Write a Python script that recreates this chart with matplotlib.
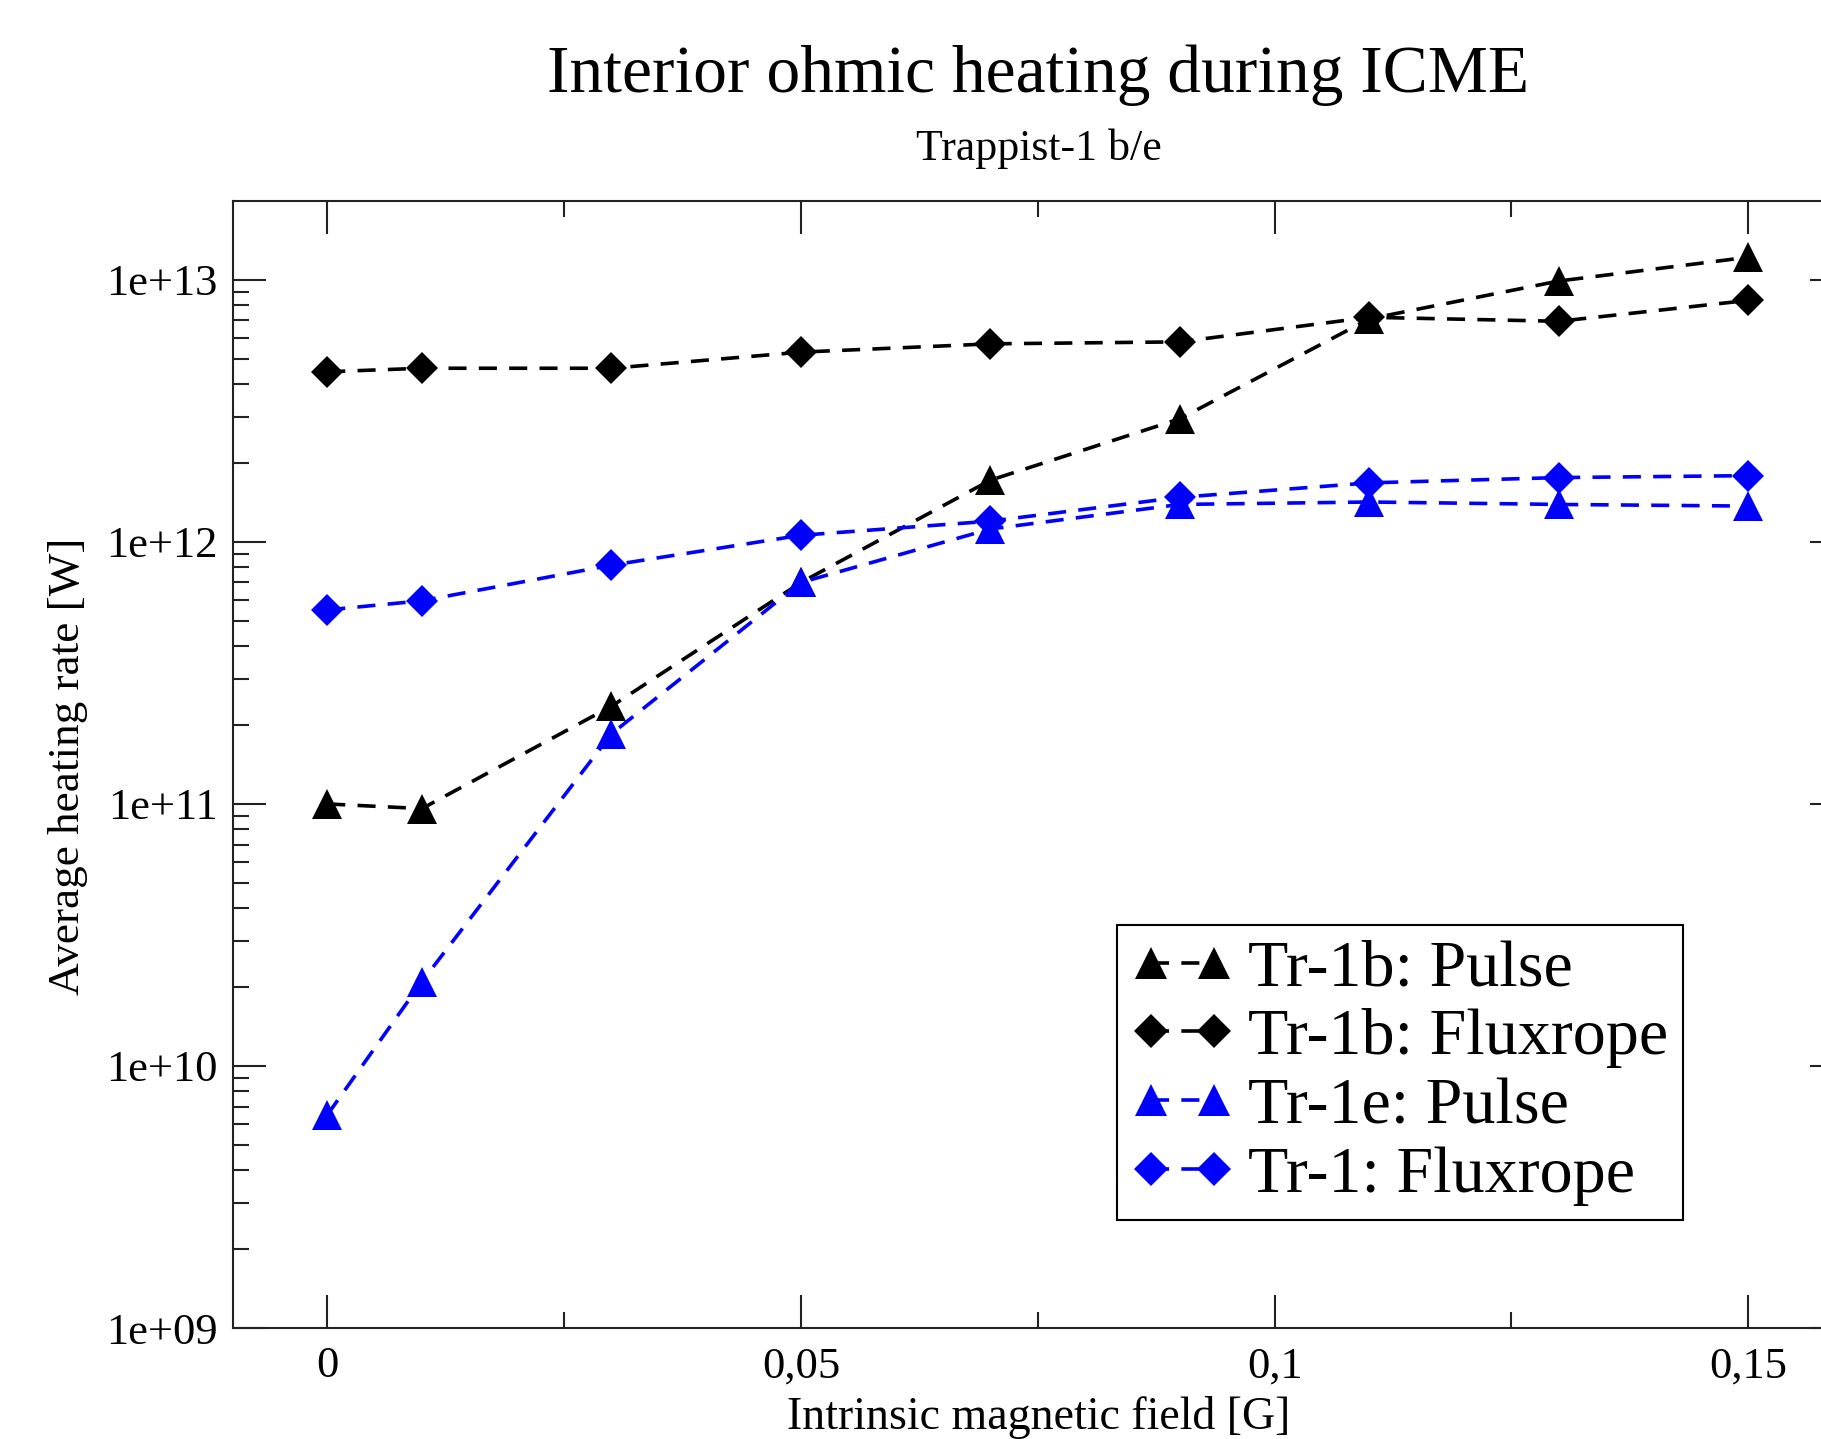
import matplotlib
matplotlib.use('Agg')
import matplotlib.pyplot as plt
from matplotlib.ticker import FixedLocator, FixedFormatter, NullFormatter

# ---- data ----
field = [0.0, 0.01, 0.03, 0.05, 0.07, 0.09, 0.11, 0.13, 0.15]
tr1b_pulse = [1.0e11, 9.6e10, 2.36e11, 7.0e11, 1.72e12, 2.95e12, 7.1e12, 9.9e12, 1.22e13]
tr1b_fluxrope = [4.46e12, 4.6e12, 4.6e12, 5.3e12, 5.7e12, 5.8e12, 7.2e12, 6.95e12, 8.35e12]
tr1e_pulse = [6.5e9, 2.1e10, 1.85e11, 7.0e11, 1.12e12, 1.39e12, 1.42e12, 1.39e12, 1.37e12]
tr1_fluxrope = [5.5e11, 5.96e11, 8.15e11, 1.06e12, 1.2e12, 1.48e12, 1.68e12, 1.76e12, 1.79e12]

labels = ["Tr-1b: Pulse", "Tr-1b: Fluxrope", "Tr-1e: Pulse", "Tr-1: Fluxrope"]
xtick_vals = [0.0, 0.05, 0.1, 0.15]
xtick_labels = ["0", "0,05", "0,1", "0,15"]
xminor_vals = [0.025, 0.075, 0.125]
ytick_vals = [1e9, 1e10, 1e11, 1e12, 1e13]
ytick_labels = ["1e+09", "1e+10", "1e+11", "1e+12", "1e+13"]
yminor_vals = [m * 10 ** e for e in range(9, 13) for m in range(2, 10)]

title = "Interior ohmic heating during ICME"
subtitle = "Trappist-1 b/e"
xlabel = "Intrinsic magnetic field [G]"
ylabel = "Average heating rate [W]"

plt.rcParams['font.family'] = ['Liberation Serif', 'DejaVu Serif']

W, H = 1821, 1439
fig = plt.figure(figsize=(W / 100, H / 100), dpi=100)
fig.patch.set_facecolor('white')

left, right, bottom, top = 232.5, 1843, 1328, 201
ax = fig.add_axes([left / W, 1 - bottom / H, (right - left) / W, (bottom - top) / H])

lw = 2.6
dash = (0, (5.0, 3.4))
series = [
    (tr1b_pulse, 'black', '^', 21.5),
    (tr1b_fluxrope, 'black', 'D', 16.5),
    (tr1e_pulse, '#0000ff', '^', 21.5),
    (tr1_fluxrope, '#0000ff', 'D', 16.5),
]
for (vals, col, mk, ms), lab in zip(series, labels):
    ax.plot(field, vals, color=col, linestyle=dash, linewidth=lw,
            marker=mk, markersize=ms, markerfacecolor=col, markeredgecolor=col,
            markeredgewidth=0, label=lab)

ax.set_yscale('log')
ax.set_xlim(-0.01, 0.16)
ax.set_ylim(1e9, 2e13)

ax.xaxis.set_major_locator(FixedLocator(xtick_vals))
ax.xaxis.set_major_formatter(FixedFormatter(xtick_labels))
ax.xaxis.set_minor_locator(FixedLocator(xminor_vals))
ax.xaxis.set_minor_formatter(NullFormatter())
ax.yaxis.set_major_locator(FixedLocator(ytick_vals))
ax.yaxis.set_major_formatter(FixedFormatter(ytick_labels))
ax.yaxis.set_minor_locator(FixedLocator(yminor_vals))
ax.yaxis.set_minor_formatter(NullFormatter())

for sp in ax.spines.values():
    sp.set_linewidth(1.5)
    sp.set_color('#222222')

ax.tick_params(which='both', direction='in', top=True, right=True, width=1.5, color='#222222')
ax.tick_params(which='major', length=23.8)
ax.tick_params(which='minor', length=11.8)
ax.tick_params(axis='x', which='major', pad=13, labelsize=32)
ax.tick_params(axis='y', which='major', pad=10.5, labelsize=32)

fig.text(1038 / W, 1 - 92 / H, title, ha='center', va='baseline', fontsize=48.6)
fig.text(1039 / W, 1 - 160 / H, subtitle, ha='center', va='baseline', fontsize=31.6)
fig.text(1039 / W, 1 - 1429 / H, xlabel, ha='center', va='baseline', fontsize=33)
fig.text(68 / W, 1 - 766 / H, ylabel, ha='center', va='center', rotation=90, fontsize=32.5)

leg = ax.legend(loc='upper left', bbox_to_anchor=(1117 / W, 1 - 925 / H),
                bbox_transform=fig.transFigure, borderaxespad=0, numpoints=2,
                fontsize=47.5, frameon=True, fancybox=False, handlelength=1.55,
                handletextpad=0.22, borderpad=0.22, labelspacing=0.13,
                markerscale=1.05)
leg.get_frame().set_edgecolor('black')
leg.get_frame().set_linewidth(1.5)
leg.get_frame().set_alpha(1)

fig.savefig('out.png', dpi=100, facecolor='white')
